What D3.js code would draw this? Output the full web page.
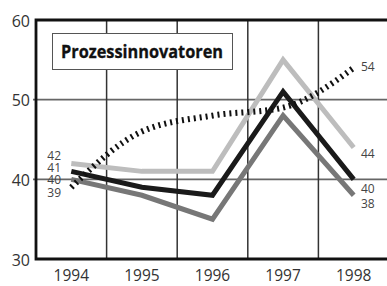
<!DOCTYPE html>
<html>
<head>
<meta charset="utf-8">
<script src="https://cdn.jsdelivr.net/npm/d3@7"></script>
<style>
  html, body { margin: 0; padding: 0; background: #fff; }
  svg { display: block; }
  text { font-family: "Open Sans", "Noto Sans", sans-serif; }
</style>
</head>
<body>
<script>
const years = ['1994', '1995', '1996', '1997', '1998']
const yTicks = [30, 40, 50, 60]
const hellgrau = [42, 41, 41, 55, 44]
const schwarz = [41, 39, 38, 51, 40]
const dunkelgrau = [40, 38, 35, 48, 38]
const gepunktet = [39, 46, 48, 49, 54]
const title = 'Prozessinnovatoren'

const width = 387
const height = 286
const frame = { left: 36, top: 20, bottom: 259, right: 389 }

const svg = d3.select('body').append('svg')
  .attr('width', width)
  .attr('height', height)

const x = d3.scaleBand().domain(years).range([frame.left, frame.right])
const y = d3.scaleLinear().domain([30, 60]).range([frame.bottom, frame.top])
const cx = (yr) => x(yr) + x.bandwidth() / 2

// grid
const gridG = svg.append('g')
gridG.selectAll('line.h').data([40, 50]).join('line').attr('class', 'h')
  .attr('x1', frame.left - 3).attr('x2', width)
  .attr('y1', (v) => y(v)).attr('y2', (v) => y(v))
  .attr('stroke', '#666').attr('stroke-width', 1.6)
gridG.selectAll('line.v').data(years.slice(1)).join('line').attr('class', 'v')
  .attr('x1', (yr) => x(yr)).attr('x2', (yr) => x(yr))
  .attr('y1', frame.top).attr('y2', frame.bottom)
  .attr('stroke', '#333').attr('stroke-width', 1.5)

// frame
svg.append('path')
  .attr('d', `M${width},${frame.top}H${frame.left}V${frame.bottom}H${width}`)
  .attr('fill', 'none').attr('stroke', '#111').attr('stroke-width', 2.8)

// y labels
svg.append('g').selectAll('text').data(yTicks).join('text')
  .attr('x', 30).attr('y', (v) => y(v)).attr('dy', '0.42em')
  .attr('text-anchor', 'end').attr('font-size', 16).attr('fill', '#333')
  .text((v) => v)

// x labels
svg.append('g').selectAll('text').data(years).join('text')
  .attr('x', (yr) => cx(yr)).attr('y', 281)
  .attr('text-anchor', 'middle').attr('font-size', 15.5).attr('fill', '#333')
  .text((yr) => yr)

// title box
svg.append('rect')
  .attr('x', 52.5).attr('y', 33.5).attr('width', 180).attr('height', 36)
  .attr('fill', '#fff').attr('stroke', '#555').attr('stroke-width', 1)
svg.append('text')
  .attr('x', 61).attr('y', 57.5)
  .attr('font-family', '"DejaVu Sans Condensed", "DejaVu Sans", sans-serif')
  .attr('font-weight', 'bold').attr('font-size', 17).attr('fill', '#111')
  .attr('stroke', '#111').attr('stroke-width', 0.3)
  .attr('textLength', 162).attr('lengthAdjust', 'spacingAndGlyphs')
  .text(title)

// lines
const line = d3.line().x((d, i) => cx(years[i])).y((d) => y(d))
const series = [
  { values: hellgrau, color: '#bdbdbd' },
  { values: dunkelgrau, color: '#777' },
  { values: schwarz, color: '#1a1a1a' },
]
svg.append('g').selectAll('path').data(series).join('path')
  .attr('d', (s) => line(s.values))
  .attr('fill', 'none').attr('stroke', (s) => s.color)
  .attr('stroke-width', 5).attr('stroke-linejoin', 'miter')

svg.append('path')
  .attr('d', line.curve(d3.curveMonotoneX)(gepunktet))
  .attr('fill', 'none').attr('stroke', '#111')
  .attr('stroke-width', 6).attr('stroke-dasharray', '2,4')

// end labels
const labelStyle = (sel) => sel.attr('font-size', 12).attr('fill', '#444')
const startVals = [hellgrau[0], schwarz[0], dunkelgrau[0], gepunktet[0]]
svg.append('g').selectAll('text').data(startVals).join('text')
  .attr('x', 61).attr('text-anchor', 'end')
  .attr('y', (v) => y(40) + 5 + (40 - v) * 12.3)
  .call(labelStyle)
  .text((v) => v)

const endVals = [gepunktet[4], hellgrau[4], schwarz[4], dunkelgrau[4]]
const endShift = [3.5, 10.5, 14, 13]
svg.append('g').selectAll('text').data(endVals).join('text')
  .attr('x', 361)
  .attr('y', (v, i) => y(v) + endShift[i])
  .call(labelStyle)
  .text((v) => v)
</script>
</body>
</html>
